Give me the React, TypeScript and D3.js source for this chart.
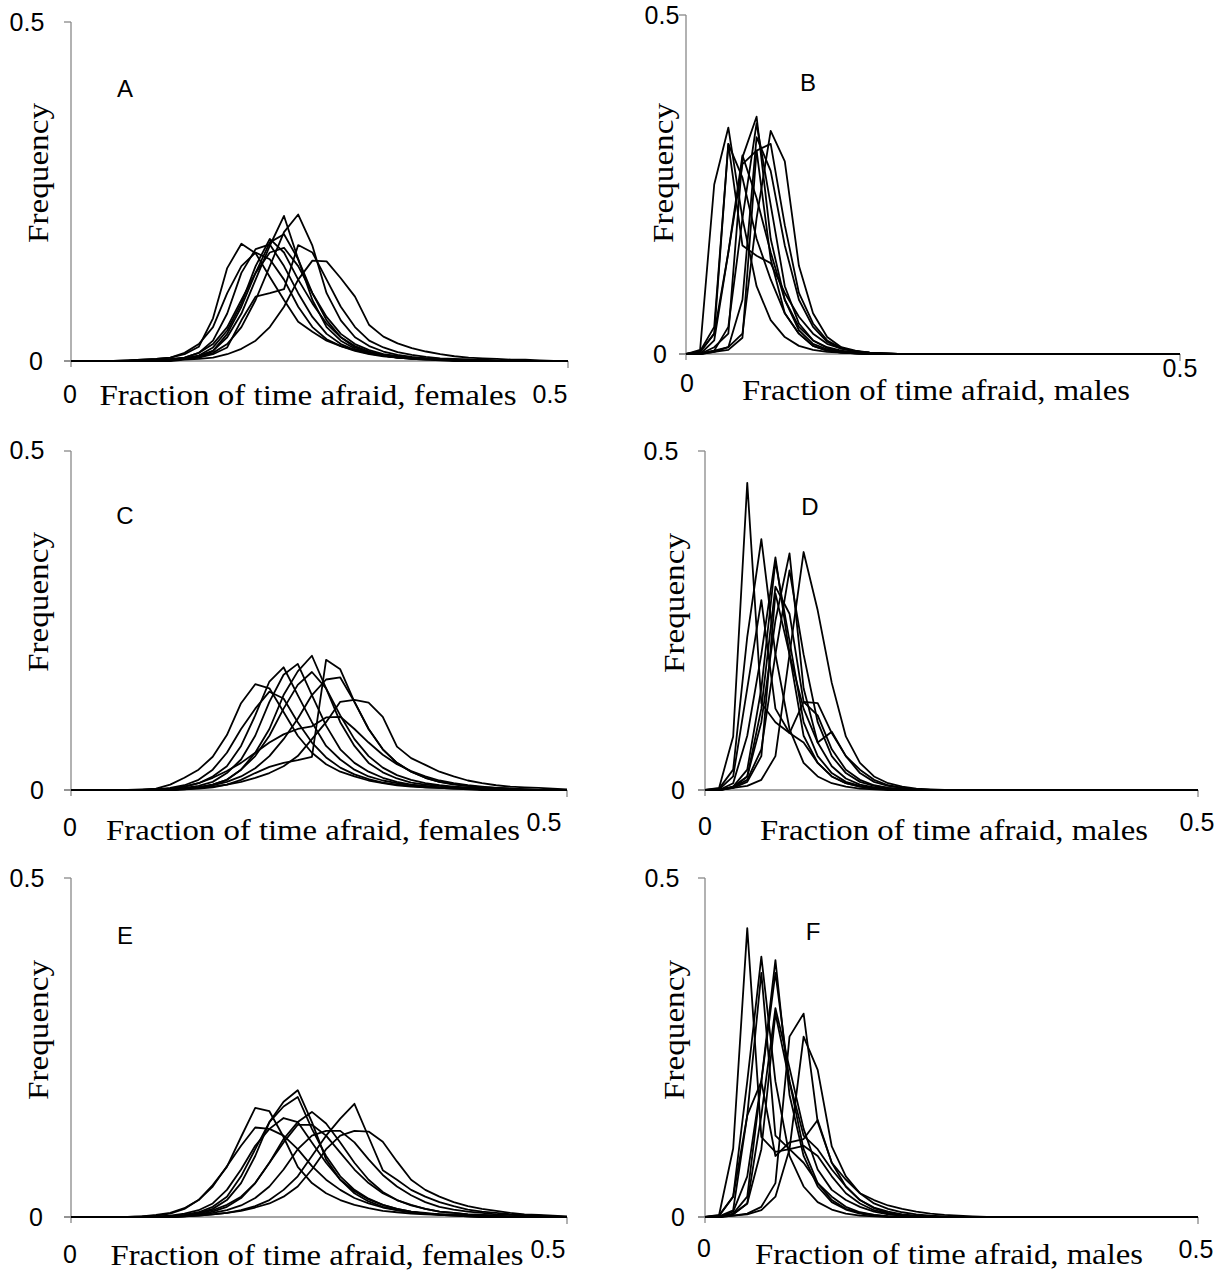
import React from "react";
import * as d3 from "d3";

// ---------- data (frequency per bin; 36 bins spanning 0..0.5) ----------
const BIN_COUNT = 36;
const X_DOMAIN = [0, 0.5];
const Y_DOMAIN = [0, 0.5];
const TICK_VALUES = ["0", "0.5"];
const PANEL_LETTERS = ["A", "B", "C", "D", "E", "F"];
const AXIS_TITLES = [
  "Fraction of time afraid, females",
  "Fraction of time afraid, males",
  "Fraction of time afraid, females",
  "Fraction of time afraid, males",
  "Fraction of time afraid, females",
  "Fraction of time afraid, males",
];
const Y_TITLE = "Frequency";

const seriesA = [
  [0,0,0,0,0.001,0.002,0.003,0.005,0.01,0.021,0.063,0.137,0.173,0.159,0.124,0.09,0.058,0.043,0.03,0.022,0.016,0.012,0.009,0.007,0.005,0.004,0.003,0.002,0.002,0.001],
  [0,0,0,0,0,0.001,0.002,0.003,0.005,0.012,0.03,0.07,0.13,0.165,0.172,0.14,0.1,0.065,0.04,0.025,0.016,0.011,0.008,0.005,0.004,0.003,0.002,0.002,0.001],
  [0,0,0,0,0,0.001,0.001,0.002,0.004,0.008,0.015,0.035,0.07,0.12,0.17,0.214,0.15,0.09,0.05,0.03,0.018,0.012,0.008,0.005,0.004,0.003,0.002,0.001],
  [0,0,0,0,0,0,0.001,0.002,0.004,0.006,0.012,0.025,0.05,0.09,0.14,0.19,0.216,0.17,0.1,0.06,0.035,0.022,0.014,0.009,0.006,0.004,0.003,0.002,0.002,0.001],
  [0,0,0,0,0,0,0.001,0.001,0.003,0.005,0.015,0.04,0.08,0.13,0.175,0.187,0.15,0.1,0.06,0.035,0.02,0.013,0.008,0.005,0.003,0.002,0.002,0.001],
  [0,0,0,0,0,0,0.001,0.001,0.003,0.005,0.01,0.02,0.06,0.095,0.1,0.106,0.171,0.16,0.12,0.08,0.05,0.03,0.02,0.013,0.009,0.006,0.004,0.003,0.002,0.002,0.001],
  [0,0,0,0,0,0,0,0,0.002,0.003,0.005,0.01,0.018,0.03,0.05,0.08,0.12,0.148,0.147,0.122,0.095,0.053,0.036,0.026,0.019,0.014,0.01,0.007,0.005,0.004,0.003,0.002,0.002,0.001],
  [0,0,0,0,0.001,0.002,0.003,0.005,0.012,0.025,0.05,0.1,0.14,0.16,0.15,0.12,0.08,0.05,0.032,0.022,0.015,0.01,0.007,0.005,0.003,0.002,0.001],
  [0,0,0,0,0,0.001,0.001,0.002,0.005,0.012,0.025,0.05,0.09,0.13,0.16,0.167,0.14,0.1,0.065,0.04,0.025,0.016,0.01,0.007,0.005,0.003,0.002,0.001],
  [0,0,0,0,0,0,0.001,0.001,0.003,0.008,0.02,0.045,0.085,0.14,0.18,0.16,0.12,0.085,0.055,0.035,0.022,0.014,0.009,0.006,0.004,0.003,0.002,0.001],
];

const seriesB = [
  [0,0.006,0.25,0.334,0.2,0.1,0.05,0.025,0.012,0.006,0.003,0.002,0.001],
  [0,0.003,0.03,0.31,0.16,0.145,0.134,0.09,0.055,0.03,0.015,0.008,0.004,0.002,0.001],
  [0,0,0.01,0.03,0.29,0.35,0.17,0.08,0.035,0.015,0.007,0.003,0.001],
  [0,0,0.005,0.01,0.03,0.2,0.329,0.284,0.13,0.06,0.025,0.01,0.005,0.002,0.001],
  [0,0,0.005,0.04,0.2,0.34,0.22,0.1,0.045,0.02,0.01,0.005,0.002,0.001],
  [0,0,0.003,0.01,0.08,0.32,0.27,0.16,0.08,0.04,0.018,0.008,0.004,0.002,0.001],
  [0,0.003,0.03,0.15,0.293,0.23,0.15,0.08,0.04,0.02,0.009,0.004,0.002,0.001],
  [0,0,0.003,0.006,0.024,0.3,0.31,0.19,0.09,0.045,0.02,0.009,0.004,0.002,0.001],
  [0,0.004,0.04,0.31,0.26,0.17,0.11,0.06,0.03,0.012,0.005,0.002,0.001],
  [0,0,0.02,0.15,0.28,0.3,0.14,0.06,0.03,0.012,0.005,0.002,0.001],
];

const seriesC = [
  [0,0,0,0,0,0.001,0.002,0.008,0.018,0.03,0.049,0.081,0.128,0.156,0.15,0.115,0.08,0.055,0.038,0.027,0.02,0.014,0.01,0.007,0.005,0.004,0.003,0.002,0.002,0.001],
  [0,0,0,0,0,0,0.001,0.003,0.007,0.015,0.03,0.055,0.09,0.12,0.145,0.135,0.1,0.07,0.048,0.033,0.023,0.016,0.011,0.008,0.006,0.004,0.003,0.002,0.001],
  [0,0,0,0,0,0,0.001,0.002,0.005,0.01,0.02,0.035,0.065,0.11,0.16,0.181,0.14,0.1,0.065,0.045,0.03,0.02,0.014,0.01,0.007,0.005,0.004,0.003,0.002,0.001],
  [0,0,0,0,0,0,0,0.001,0.003,0.006,0.012,0.025,0.045,0.08,0.13,0.17,0.186,0.14,0.095,0.06,0.04,0.027,0.018,0.012,0.008,0.006,0.004,0.003,0.002,0.001],
  [0,0,0,0,0,0,0,0,0.002,0.004,0.008,0.015,0.03,0.055,0.09,0.14,0.175,0.198,0.15,0.1,0.065,0.04,0.026,0.017,0.011,0.008,0.006,0.004,0.003,0.002,0.001],
  [0,0,0,0,0,0,0,0,0.002,0.004,0.008,0.015,0.03,0.05,0.08,0.12,0.155,0.174,0.15,0.11,0.075,0.05,0.033,0.022,0.015,0.01,0.007,0.005,0.004,0.003,0.002,0.001],
  [0,0,0,0,0,0,0,0,0.001,0.002,0.004,0.008,0.015,0.025,0.034,0.04,0.044,0.049,0.192,0.178,0.13,0.09,0.06,0.04,0.027,0.018,0.012,0.008,0.006,0.004,0.003,0.002,0.001],
  [0,0,0,0,0,0,0,0,0.002,0.004,0.007,0.012,0.02,0.032,0.05,0.075,0.105,0.14,0.163,0.166,0.13,0.09,0.06,0.04,0.027,0.018,0.012,0.009,0.006,0.004,0.003,0.002,0.001],
  [0,0,0,0,0,0,0,0,0.001,0.003,0.005,0.008,0.012,0.018,0.025,0.035,0.05,0.075,0.1,0.13,0.133,0.129,0.108,0.064,0.047,0.037,0.027,0.02,0.014,0.01,0.007,0.005,0.004,0.003,0.002,0.001],
  [0,0,0,0,0,0,0,0.002,0.005,0.01,0.018,0.028,0.04,0.055,0.07,0.082,0.09,0.094,0.107,0.108,0.09,0.07,0.052,0.038,0.028,0.02,0.014,0.01,0.007,0.005,0.003,0.002,0.001],
];

const seriesD = [
  [0,0.003,0.079,0.453,0.128,0.1,0.084,0.07,0.04,0.02,0.01,0.005,0.002,0.001],
  [0,0.002,0.03,0.226,0.37,0.2,0.09,0.04,0.02,0.01,0.005,0.002,0.001],
  [0,0,0.01,0.08,0.2,0.343,0.2,0.08,0.04,0.02,0.01,0.005,0.002,0.001],
  [0,0,0.005,0.02,0.1,0.25,0.349,0.15,0.07,0.035,0.017,0.008,0.004,0.002,0.001],
  [0,0,0.003,0.006,0.015,0.05,0.2,0.351,0.265,0.158,0.079,0.04,0.02,0.01,0.005,0.002,0.001],
  [0,0,0.004,0.015,0.06,0.2,0.324,0.2,0.1,0.05,0.025,0.012,0.006,0.003,0.001],
  [0,0,0.005,0.03,0.15,0.337,0.22,0.1,0.05,0.025,0.012,0.006,0.003,0.001],
  [0,0,0.003,0.012,0.05,0.29,0.2,0.12,0.07,0.086,0.05,0.03,0.015,0.007,0.003,0.001],
  [0,0.001,0.02,0.15,0.28,0.12,0.084,0.13,0.128,0.084,0.05,0.025,0.012,0.006,0.003,0.001],
  [0,0,0.004,0.02,0.12,0.3,0.26,0.13,0.11,0.06,0.03,0.015,0.007,0.003,0.001],
];

const seriesE = [
  [0,0,0,0,0,0.001,0.002,0.005,0.012,0.025,0.047,0.074,0.118,0.161,0.156,0.118,0.074,0.05,0.035,0.025,0.018,0.013,0.009,0.007,0.005,0.004,0.003,0.002,0.001],
  [0,0,0,0,0,0.001,0.003,0.006,0.013,0.025,0.045,0.075,0.105,0.132,0.13,0.12,0.1,0.075,0.055,0.04,0.028,0.02,0.014,0.01,0.007,0.005,0.004,0.003,0.002,0.001],
  [0,0,0,0,0,0,0,0.001,0.003,0.006,0.012,0.025,0.05,0.09,0.14,0.17,0.187,0.14,0.085,0.055,0.035,0.023,0.015,0.01,0.007,0.005,0.003,0.002,0.001],
  [0,0,0,0,0,0,0,0.001,0.003,0.007,0.015,0.03,0.06,0.1,0.14,0.163,0.177,0.13,0.09,0.06,0.04,0.027,0.018,0.012,0.008,0.005,0.004,0.003,0.002,0.001],
  [0,0,0,0,0,0,0.001,0.002,0.005,0.01,0.02,0.04,0.07,0.105,0.13,0.146,0.14,0.11,0.08,0.055,0.038,0.026,0.018,0.012,0.008,0.006,0.004,0.003,0.002,0.001],
  [0,0,0,0,0,0,0,0,0.002,0.004,0.008,0.015,0.028,0.05,0.08,0.115,0.14,0.155,0.138,0.11,0.08,0.055,0.037,0.025,0.017,0.012,0.008,0.006,0.004,0.003,0.002,0.001],
  [0,0,0,0,0,0,0,0,0.002,0.005,0.01,0.018,0.03,0.05,0.08,0.11,0.136,0.136,0.12,0.095,0.07,0.05,0.035,0.025,0.018,0.012,0.008,0.006,0.004,0.003,0.002,0.001],
  [0,0,0,0,0,0,0,0,0.001,0.003,0.006,0.01,0.017,0.028,0.045,0.07,0.1,0.12,0.127,0.127,0.11,0.085,0.062,0.045,0.032,0.022,0.015,0.011,0.008,0.006,0.004,0.003,0.002,0.001],
  [0,0,0,0,0,0,0,0,0.001,0.002,0.004,0.006,0.01,0.016,0.025,0.04,0.06,0.09,0.12,0.145,0.167,0.118,0.069,0.055,0.04,0.03,0.022,0.016,0.011,0.008,0.006,0.004,0.003,0.002,0.001],
  [0,0,0,0,0,0,0,0,0.001,0.002,0.004,0.006,0.009,0.014,0.02,0.03,0.045,0.07,0.1,0.12,0.127,0.126,0.111,0.082,0.055,0.04,0.03,0.022,0.016,0.012,0.009,0.006,0.004,0.003,0.002,0.001],
];

const seriesF = [
  [0,0.003,0.101,0.426,0.118,0.096,0.1,0.08,0.05,0.03,0.015,0.007,0.003,0.001],
  [0,0.002,0.03,0.2,0.384,0.2,0.09,0.045,0.022,0.011,0.005,0.002,0.001],
  [0,0,0.008,0.06,0.2,0.379,0.18,0.09,0.045,0.022,0.011,0.005,0.002,0.001],
  [0,0,0.004,0.02,0.15,0.308,0.22,0.13,0.07,0.04,0.025,0.015,0.008,0.004,0.002,0.001],
  [0,0,0.005,0.03,0.2,0.36,0.2,0.1,0.05,0.025,0.012,0.006,0.003,0.001],
  [0,0,0.002,0.005,0.015,0.05,0.266,0.3,0.14,0.08,0.045,0.025,0.014,0.008,0.004,0.002,0.001],
  [0,0,0.002,0.004,0.01,0.03,0.1,0.266,0.217,0.104,0.06,0.035,0.02,0.012,0.007,0.004,0.002,0.001],
  [0,0.002,0.03,0.15,0.2,0.09,0.11,0.115,0.143,0.08,0.055,0.035,0.025,0.017,0.012,0.008,0.005,0.003,0.002,0.001],
  [0,0,0.004,0.02,0.1,0.3,0.2,0.12,0.1,0.07,0.045,0.025,0.013,0.006,0.003,0.001],
  [0,0.001,0.01,0.15,0.36,0.12,0.1,0.105,0.09,0.06,0.035,0.02,0.01,0.005,0.002,0.001],
];

const ALL_SERIES = [seriesA, seriesB, seriesC, seriesD, seriesE, seriesF];

// ---------- layout (pixel geometry of each panel) ----------
const LAYOUT = [
  { x0: 71, x1: 568, yTop: 22, yBot: 361, yt: [[27, 22], [36, 361]], xt: [[70, 394], [550, 394]], title: [308, 394, 417], letter: [125, 88], freq: [37, 173] },
  { x0: 686, x1: 1180, yTop: 15, yBot: 354, yt: [[662, 15], [660, 354]], xt: [[687, 383], [1180, 368]], title: [936, 389, 388], letter: [808, 82], freq: [662, 173] },
  { x0: 71, x1: 567, yTop: 451, yBot: 790, yt: [[27, 450], [37, 790]], xt: [[70, 827], [544, 822]], title: [313, 829, 414], letter: [125, 515], freq: [37, 602] },
  { x0: 705, x1: 1198, yTop: 451, yBot: 790, yt: [[661, 451], [678, 790]], xt: [[705, 826], [1197, 822]], title: [954, 829, 388], letter: [810, 506], freq: [673, 603] },
  { x0: 71, x1: 567, yTop: 878, yBot: 1217, yt: [[27, 878], [36, 1217]], xt: [[70, 1254], [548, 1249]], title: [317, 1254, 413], letter: [125, 935], freq: [37, 1030] },
  { x0: 705, x1: 1198, yTop: 878, yBot: 1217, yt: [[662, 878], [678, 1217]], xt: [[704, 1248], [1196, 1249]], title: [949, 1253, 388], letter: [813, 931], freq: [673, 1030] },
];

const AXIS_COLOR = "#898989";
const SANS = "'Liberation Sans', Arial, sans-serif";
const SERIF = "'Liberation Serif', 'Times New Roman', serif";

function Panel({ idx }: { idx: number }) {
  const L = LAYOUT[idx];
  const series = ALL_SERIES[idx];
  const x = d3.scaleLinear().domain(X_DOMAIN).range([L.x0, L.x1]);
  const y = d3.scaleLinear().domain(Y_DOMAIN).range([L.yBot, L.yTop]);
  const binX = (i: number) => X_DOMAIN[0] + (i * (X_DOMAIN[1] - X_DOMAIN[0])) / (BIN_COUNT - 1);
  const line = d3
    .line<number>()
    .x((_, i) => x(binX(i)))
    .y((v) => y(v));
  const padded = series.map((s) => {
    const arr = s.slice();
    while (arr.length < BIN_COUNT) arr.push(0);
    return arr;
  });
  const yTickVals = [Y_DOMAIN[1], Y_DOMAIN[0]];
  const sansStyle = { fontFamily: SANS };
  const serifStyle = { fontFamily: SERIF };
  return (
    <g>
      <line x1={L.x0} x2={L.x0} y1={y(Y_DOMAIN[1])} y2={y(0) + 6} stroke={AXIS_COLOR} strokeWidth={1.3} />
      {yTickVals.map((v, k) => (
        <line key={"yt" + k} x1={L.x0 - 7} x2={L.x0} y1={y(v)} y2={y(v)} stroke={AXIS_COLOR} strokeWidth={1.3} />
      ))}
      <line x1={L.x0 - 7} x2={L.x1} y1={y(0)} y2={y(0)} stroke={AXIS_COLOR} strokeWidth={1.3} />
      <line x1={L.x1} x2={L.x1} y1={y(0)} y2={y(0) + 7} stroke={AXIS_COLOR} strokeWidth={1.3} />
      {padded.map((s, k) => (
        <path key={k} d={line(s) || ""} fill="none" stroke="#000" strokeWidth={1.8} strokeLinejoin="round" />
      ))}
      {yTickVals.map((v, k) => (
        <text key={"ytl" + k} x={L.yt[k][0]} y={L.yt[k][1]} textAnchor="middle" dominantBaseline="central" style={sansStyle} fontSize={25}>
          {v === 0 ? TICK_VALUES[0] : TICK_VALUES[1]}
        </text>
      ))}
      {TICK_VALUES.map((t, k) => (
        <text key={"xtl" + k} x={L.xt[k][0]} y={L.xt[k][1]} textAnchor="middle" dominantBaseline="central" style={sansStyle} fontSize={25}>
          {t}
        </text>
      ))}
      <text x={L.title[0]} y={L.title[1]} textAnchor="middle" dominantBaseline="central" style={serifStyle} fontSize={30} textLength={L.title[2]} lengthAdjust="spacingAndGlyphs">
        {AXIS_TITLES[idx]}
      </text>
      <text
        transform={`translate(${L.freq[0]},${L.freq[1]}) rotate(-90)`}
        textAnchor="middle"
        dominantBaseline="central"
        style={serifStyle}
        fontSize={30}
        textLength={140}
        lengthAdjust="spacingAndGlyphs"
      >
        {Y_TITLE}
      </text>
      <text x={L.letter[0]} y={L.letter[1]} textAnchor="middle" dominantBaseline="central" style={sansStyle} fontSize={24}>
        {PANEL_LETTERS[idx]}
      </text>
    </g>
  );
}

export default function App() {
  return (
    <svg
      width={1231}
      height={1270}
      viewBox="0 0 1231 1270"
      style={{ position: "absolute", left: 0, top: 0, background: "#fff" }}
    >
      <rect width={1231} height={1270} fill="#fff" />
      {LAYOUT.map((_, i) => (
        <Panel key={i} idx={i} />
      ))}
    </svg>
  );
}
